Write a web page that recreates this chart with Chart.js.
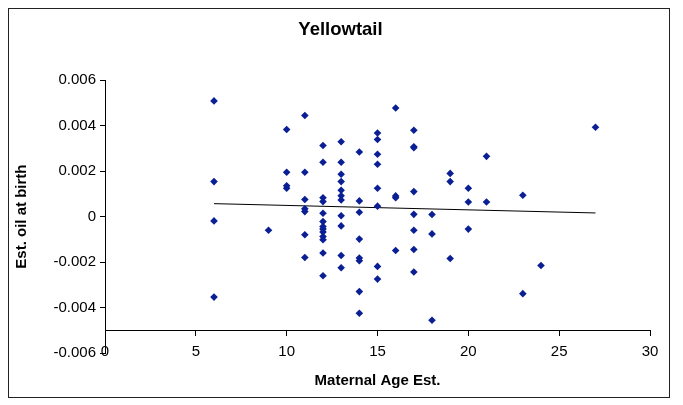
<!DOCTYPE html>
<html>
<head>
<meta charset="utf-8">
<title>Yellowtail</title>
<script src="https://cdn.jsdelivr.net/npm/chart.js@4/dist/chart.umd.min.js"></script>
<style>
	body{margin:0;background:#fff;}
	#marco{position:absolute;left:8px;top:8px;width:660px;height:388px;border:1px solid #222;}
</style>
</head>
<body>
<div id="marco"><canvas id="oilChart" width="660" height="388"></canvas></div>
<script>
// edad materna estimada (x) y aceite estimado al nacer (y)
var ageEst = [6,6,6,6,
	9,
	10,10,10,10,
	11,11,11,11,11,11,11,
	12,12,12,12,12,12,12,12,12,12,12,12,12,
	13,13,13,13,13,13,13,13,13,13,13,
	14,14,14,14,14,14,14,14,
	15,15,15,15,15,15,15,15,
	16,16,16,16,
	17,17,17,17,17,17,17,17,
	18,18,18,
	19,19,19,
	20,20,20,
	21,21,
	23,23,
	24,
	27];
var oilEst = [0.00509,0.00154,-0.00019,-0.00354,
	-0.00060,
	0.00383,0.00195,0.00136,0.00125,
	0.00445,0.00195,0.00075,0.00034,0.00022,-0.00080,-0.00180,
	0.00313,0.00239,0.00083,0.00066,0.00015,-0.00022,-0.00044,-0.00055,-0.00068,-0.00088,-0.00102,-0.00160,-0.00260,
	0.00329,0.00239,0.00186,0.00154,0.00116,0.00092,0.00073,0.00004,-0.00041,-0.00171,-0.00225,
	0.00284,0.00069,0.00019,-0.00099,-0.00182,-0.00194,-0.00330,-0.00425,
	0.00368,0.00339,0.00274,0.00230,0.00125,0.00046,-0.00219,-0.00275,
	0.00478,0.00091,0.00083,-0.00149,
	0.00380,0.00307,0.00303,0.00110,0.00010,-0.00060,-0.00145,-0.00244,
	0.00009,-0.00076,-0.00456,
	0.00190,0.00154,-0.00184,
	0.00125,0.00064,-0.00055,
	0.00265,0.00064,
	0.00094,-0.00339,
	-0.00215,
	0.00393];
// linea de tendencia (extremos)
var trendAge = [6, 27];
var trendOil = [0.00057, 0.00016];

var xRange = [0, 30];
var yRange = [-0.006, 0.006];
var xCross = -0.005;

function toPoints(xs, ys){
	var out = [];
	for(var i = 0; i < xs.length; i++){
		out.push({x: xs[i], y: ys[i]});
	}
	return out;
}

function chartData(ctx){
	Chart.defaults.font.family = "'Liberation Sans', Arial, sans-serif";
	Chart.defaults.color = "#000";
	const chart = new Chart(ctx,{
		type: "scatter",
		data:{
			datasets:[{
				data: toPoints(ageEst, oilEst),
				pointStyle: "rectRot",
				pointRadius: 3.8,
				borderWidth: 0,
				backgroundColor: "#0a1f94",
				borderColor: "#0a1f94"
			},{
				data: toPoints(trendAge, trendOil),
				showLine: true,
				borderColor: "#000",
				borderWidth: 1,
				pointRadius: 0
			}]
		},
		options:{
			responsive: false,
			animation: false,
			events: [],
			layout:{padding:{left:22, right:19, top:0, bottom:44}},
			plugins:{
				legend:{display:false},
				tooltip:{enabled:false},
				title:{
					display: true,
					text: "Yellowtail",
					font:{size:18.5, weight:"bold"},
					padding:{top:10, bottom:39}
				}
			},
			scales:{
				x:{
					type: "linear",
					min: xRange[0], max: xRange[1],
					position: {y: xCross},
					grid:{drawOnChartArea:false, drawTicks:true, tickLength:5, color:"#000"},
					border:{color:"#000", width:1},
					ticks:{stepSize:5, padding:8, font:{size:15}},
					title:{display:true, text:"Maternal Age Est.", font:{size:15, weight:"bold"}, padding:{top:3, bottom:0}}
				},
				y:{
					type: "linear",
					min: yRange[0], max: yRange[1],
					grid:{drawOnChartArea:false, drawTicks:true, tickLength:5, color:"#000"},
					border:{color:"#000", width:1},
					ticks:{
						stepSize:0.002, padding:4, font:{size:15},
						callback: function(v){ return Math.abs(v) < 1e-9 ? "0" : v.toFixed(3); }
					},
					title:{display:true, text:"Est. oil at birth", font:{size:15, weight:"bold"}, padding:{top:-18, bottom:0}},
					afterFit: function(s){ s.width = 74; }
				}
			}
		}
	});
}

function renderChart(){
	const oil_chart = document.querySelector('#oilChart').getContext('2d');
	chartData(oil_chart);
}

renderChart();
</script>
</body>
</html>
